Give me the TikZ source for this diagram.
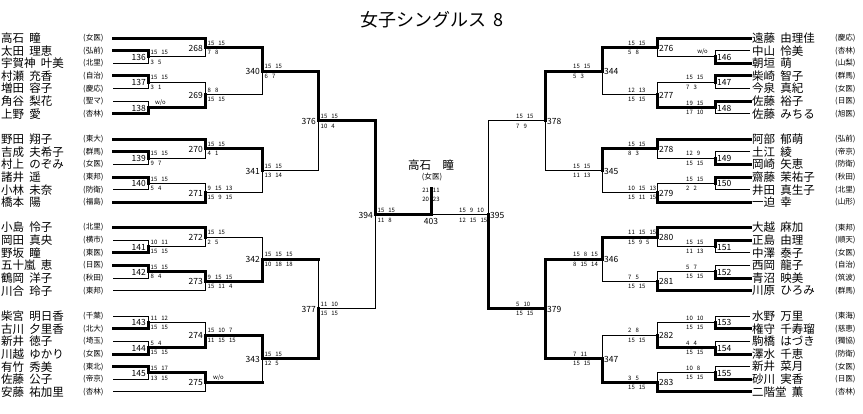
\documentclass[tikz,border=0pt]{standalone}
\usepackage{fontspec}
\setmainfont{Noto Sans CJK JP}
\usetikzlibrary{calc}

% row height of the draw sheet
\newcommand{\ry}[1]{38+12.64*#1}
% one arm of a match: entrant -> vertical -> output point
\newcommand{\arm}[3]{\draw[#3] (#1) -- (#1 -| #2) -- (#2);}
% match number and scores, left and right half
\newcommand{\resL}[3]{%
  \node[matchno, anchor=east] (no#1) at ($(m#1)+(-2,0.5)$) {#1};
  \node[score, anchor=south west] (st#1) at ($(m#1)+(2.5,-2)$) {#2};
  \node[score, anchor=north west] (sb#1) at ($(m#1)+(2.5,2.5)$) {#3};}
\newcommand{\resR}[3]{%
  \node[matchno, anchor=west] (no#1) at ($(m#1)+(2,0.5)$) {#1};
  \node[score, anchor=south west] (st#1) at ($(m#1)+(-29,-2)$) {#2};
  \node[score, anchor=north west] (sb#1) at ($(m#1)+(-29,2.5)$) {#3};}

\tikzset{
  win/.style={line width=3pt, line cap=rect},
  lose/.style={line width=1pt},
  player/.style={inner sep=0pt, font=\fontsize{11.5}{12}\selectfont},
  school/.style={anchor=west, inner sep=0pt, font=\fontsize{7.6}{8}\selectfont},
  matchno/.style={inner sep=0pt, font=\fontsize{8.5}{9}\selectfont},
  score/.style={inner sep=0pt, font={\fontsize{6}{6}\selectfont\spaceskip=4pt\relax}},
}

\begin{document}
\begin{tikzpicture}[x=1pt, y=-1pt]
  \useasboundingbox (0,0) rectangle (863,413);

  % Titel
  \node[font=\fontsize{18}{20}\selectfont] (title) at (432,20) {女子シングルス\hspace{0.4em}8};

  % Spieler links
  \foreach \k/\fam/\giv/\sch in {0/高石/瞳/女医, 1/太田/理恵/弘前, 2/宇賀神/叶美/北里,
      3/村瀬/充香/自治, 4/増田/容子/慶応, 5/角谷/梨花/聖マ, 6/上野/愛/杏林,
      8/野田/翔子/東大, 9/吉成/夫希子/群馬, 10/村上/のぞみ/女医, 11/諸井/遥/東邦,
      12/小林/未奈/防衛, 13/橋本/陽/福島,
      15/小島/怜子/北里, 16/岡田/真央/横市, 17/野坂/瞳/東医, 18/五十嵐/恵/日医,
      19/鶴岡/洋子/秋田, 20/川合/玲子/東邦,
      22/柴宮/明日香/千葉, 23/古川/夕里香/北大, 24/新井/徳子/埼玉, 25/川越/ゆかり/女医,
      26/有竹/秀美/東北, 27/佐藤/公子/帝京, 28/安藤/祐加里/杏林}{
    \node[player, anchor=west] (pl\k) at (1,{\ry{\k}}) {\fam\hspace{0.45em}\giv};
    \node[school] (sl\k) at (83,{\ry{\k}}) {(\sch)};
    \coordinate (L\k) at (113,{\ry{\k}});
  }

  % Spieler rechts
  \foreach \k/\fam/\giv/\sch in {0/遠藤/由理佳/慶応, 1/中山/怜美/杏林, 2/朝垣/萌/山梨,
      3/柴崎/智子/群馬, 4/今泉/真紀/女医, 5/佐藤/裕子/日医, 6/佐藤/みちる/旭医,
      8/阿部/郁萌/弘前, 9/土江/綾/帝京, 10/岡崎/矢恵/防衛, 11/齋藤/茉祐子/秋田,
      12/井田/真生子/北里, 13/一迫/幸/山形,
      15/大越/麻加/東邦, 16/正島/由理/順天, 17/中澤/泰子/女医, 18/西岡/龍子/自治,
      19/青沼/映美/筑波, 20/川原/ひろみ/群馬,
      22/水野/万里/東海, 23/権守/千寿瑠/慈恵, 24/駒橋/はづき/獨協, 25/澤水/千恵/防衛,
      26/新井/菜月/女医, 27/砂川/実香/日医, 28/二階堂/薫/杏林}{
    \node[player, anchor=west] (pr\k) at (752,{\ry{\k}}) {\fam\hspace{0.45em}\giv};
    \node[school] (sr\k) at (835,{\ry{\k}}) {(\sch)};
    \coordinate (R\k) at (750,{\ry{\k}});
  }

  % Spielpunkte links
  \coordinate (m136) at (148,{\ry{1.5}});
  \coordinate (m137) at (148,{\ry{3.5}});
  \coordinate (m138) at (148,{\ry{5.5}});
  \coordinate (m139) at (148,{\ry{9.5}});
  \coordinate (m140) at (148,{\ry{11.5}});
  \coordinate (m141) at (148,{\ry{16.5}});
  \coordinate (m142) at (148,{\ry{18.5}});
  \coordinate (m143) at (148,{\ry{22.5}});
  \coordinate (m144) at (148,{\ry{24.5}});
  \coordinate (m145) at (148,{\ry{26.5}});
  \coordinate (m268) at (205,{\ry{0.75}});
  \coordinate (m269) at (205,{\ry{4.5}});
  \coordinate (m270) at (205,{\ry{8.75}});
  \coordinate (m271) at (205,{\ry{12.25}});
  \coordinate (m272) at (205,{\ry{15.75}});
  \coordinate (m273) at (205,{\ry{19.25}});
  \coordinate (m274) at (205,{\ry{23.5}});
  \coordinate (m275) at (205,{\ry{27.25}});
  \coordinate (m340) at (262,{\ry{2.625}});
  \coordinate (m341) at (262,{\ry{10.5}});
  \coordinate (m342) at (262,{\ry{17.5}});
  \coordinate (m343) at (262,{\ry{25.375}});
  \coordinate (m376) at (318,{\ry{6.5625}});
  \coordinate (m377) at (318,{\ry{21.4375}});
  \coordinate (m394) at (375,{\ry{14}});

  % Spielpunkte rechts
  \coordinate (m146) at (715,{\ry{1.5}});
  \coordinate (m147) at (715,{\ry{3.5}});
  \coordinate (m148) at (715,{\ry{5.5}});
  \coordinate (m149) at (715,{\ry{9.5}});
  \coordinate (m150) at (715,{\ry{11.5}});
  \coordinate (m151) at (715,{\ry{16.5}});
  \coordinate (m152) at (715,{\ry{18.5}});
  \coordinate (m153) at (715,{\ry{22.5}});
  \coordinate (m154) at (715,{\ry{24.5}});
  \coordinate (m155) at (715,{\ry{26.5}});
  \coordinate (m276) at (657,{\ry{0.75}});
  \coordinate (m277) at (657,{\ry{4.5}});
  \coordinate (m278) at (657,{\ry{8.75}});
  \coordinate (m279) at (657,{\ry{12.25}});
  \coordinate (m280) at (657,{\ry{15.75}});
  \coordinate (m281) at (657,{\ry{19.25}});
  \coordinate (m282) at (657,{\ry{23.5}});
  \coordinate (m283) at (657,{\ry{27.25}});
  \coordinate (m344) at (602,{\ry{2.625}});
  \coordinate (m345) at (602,{\ry{10.5}});
  \coordinate (m346) at (602,{\ry{17.5}});
  \coordinate (m347) at (602,{\ry{25.375}});
  \coordinate (m378) at (545,{\ry{6.5625}});
  \coordinate (m379) at (545,{\ry{21.4375}});
  \coordinate (m395) at (488,{\ry{14}});
  \coordinate (m403) at (431,{\ry{14}});
  \coordinate (champ) at (431,188);

  % Linien links
  \arm{L2}{m136}{lose} \arm{L1}{m136}{win}
  \arm{L4}{m137}{lose} \arm{L3}{m137}{win}
  \arm{L5}{m138}{lose} \arm{L6}{m138}{win}
  \arm{m136}{m268}{lose} \arm{L0}{m268}{win}
  \arm{m137}{m269}{lose} \arm{m138}{m269}{win}
  \arm{m269}{m340}{lose} \arm{m268}{m340}{win}
  \arm{L10}{m139}{lose} \arm{L9}{m139}{win}
  \arm{m139}{m270}{lose} \arm{L8}{m270}{win}
  \arm{L12}{m140}{lose} \arm{L11}{m140}{win}
  \arm{m140}{m271}{lose} \arm{L13}{m271}{win}
  \arm{m271}{m341}{lose} \arm{m270}{m341}{win}
  \arm{m341}{m376}{lose} \arm{m340}{m376}{win}
  \arm{L16}{m141}{lose} \arm{L17}{m141}{win}
  \arm{m141}{m272}{lose} \arm{L15}{m272}{win}
  \arm{L19}{m142}{lose} \arm{L18}{m142}{win}
  \arm{L20}{m273}{lose} \arm{m142}{m273}{win}
  \arm{m272}{m342}{lose} \arm{m273}{m342}{win}
  \arm{L22}{m143}{lose} \arm{L23}{m143}{win}
  \arm{L24}{m144}{lose} \arm{L25}{m144}{win}
  \arm{m143}{m274}{lose} \arm{m144}{m274}{win}
  \arm{L27}{m145}{lose} \arm{L26}{m145}{win}
  \arm{L28}{m275}{lose} \arm{m145}{m275}{win}
  \arm{m275}{m343}{lose} \arm{m274}{m343}{win}
  \arm{m342}{m377}{lose} \arm{m343}{m377}{win}
  \arm{m377}{m394}{lose} \arm{m376}{m394}{win}
  % dick gezeichnet wie im Blatt
  \draw[win] (m342) -- (m342 -| m377);
  \draw[win] (m275) -- (m275 -| m343);

  % Linien rechts
  \arm{R1}{m146}{lose} \arm{R2}{m146}{win}
  \arm{m146}{m276}{lose} \arm{R0}{m276}{win}
  \arm{R4}{m147}{lose} \arm{R3}{m147}{win}
  \arm{R6}{m148}{lose} \arm{R5}{m148}{win}
  \arm{m147}{m277}{lose} \arm{m148}{m277}{win}
  \arm{m277}{m344}{lose} \arm{m276}{m344}{win}
  \arm{R9}{m149}{lose} \arm{R10}{m149}{win}
  \arm{m149}{m278}{lose} \arm{R8}{m278}{win}
  \arm{R12}{m150}{lose} \arm{R11}{m150}{win}
  \arm{m150}{m279}{lose} \arm{R13}{m279}{win}
  \arm{m279}{m345}{lose} \arm{m278}{m345}{win}
  \arm{m345}{m378}{lose} \arm{m344}{m378}{win}
  \arm{R17}{m151}{lose} \arm{R16}{m151}{win}
  \arm{m151}{m280}{lose} \arm{R15}{m280}{win}
  \arm{R18}{m152}{lose} \arm{R19}{m152}{win}
  \arm{m152}{m281}{lose} \arm{R20}{m281}{win}
  \arm{m281}{m346}{lose} \arm{m280}{m346}{win}
  \arm{R22}{m153}{lose} \arm{R23}{m153}{win}
  \arm{R24}{m154}{lose} \arm{R25}{m154}{win}
  \arm{m153}{m282}{lose} \arm{m154}{m282}{win}
  \arm{R26}{m155}{lose} \arm{R27}{m155}{win}
  \arm{m155}{m283}{lose} \arm{R28}{m283}{win}
  \arm{m282}{m347}{lose} \arm{m283}{m347}{win}
  \arm{m346}{m379}{win} \arm{m347}{m379}{win}
  \arm{m378}{m395}{lose} \arm{m379}{m395}{win}

  % Finale
  \arm{m395}{m403}{lose} \arm{m394}{m403}{win}
  \draw[win] (m403) -- (champ);

  % Ergebnisse links
  \resL{136}{15 15}{3 5}
  \resL{137}{15 15}{3 1}
  \node[matchno, anchor=east] (no138) at ($(m138)+(-2,0.5)$) {138};
  \node[score, anchor=south west] (st138) at ($(m138)+(7,-2)$) {w/o};
  \resL{139}{15 15}{9 7}
  \resL{140}{15 15}{5 4}
  \resL{141}{10 11}{15 15}
  \resL{142}{15 15}{8 4}
  \resL{143}{11 12}{15 15}
  \resL{144}{5 4}{15 15}
  \resL{145}{15 17}{13 15}
  \resL{268}{15 15}{7 8}
  \resL{269}{8 8}{15 15}
  \resL{270}{15 15}{4 1}
  \resL{271}{9 15 13}{15 9 15}
  \resL{272}{15 15}{2 5}
  \resL{273}{9 15 15}{15 11 4}
  \resL{274}{15 10 7}{11 15 15}
  \node[matchno, anchor=east] (no275) at ($(m275)+(-2,0.5)$) {275};
  \node[score, anchor=south west] (st275) at ($(m275)+(8,-2)$) {w/o};
  \resL{340}{15 15}{6 7}
  \resL{341}{15 15}{13 14}
  \resL{342}{15 15 15}{10 18 18}
  \resL{343}{15 15}{12 5}
  \resL{376}{15 15}{10 4}
  \resL{377}{11 10}{15 15}
  \resL{394}{15 15}{11 8}

  % Ergebnisse rechts
  \node[matchno, anchor=west] (no146) at ($(m146)+(2,0.5)$) {146};
  \node[score, anchor=south east] (st146) at ($(m146)+(-7,-2)$) {w/o};
  \resR{147}{15 15}{7 3}
  \resR{148}{19 15}{17 10}
  \resR{149}{12 9}{15 15}
  \resR{150}{15 15}{2 2}
  \resR{151}{15 15}{11 13}
  \resR{152}{5 7}{15 15}
  \resR{153}{10 10}{15 15}
  \resR{154}{4 4}{15 15}
  \resR{155}{10 8}{15 15}
  \resR{276}{15 15}{5 8}
  \resR{277}{12 13}{15 15}
  \resR{278}{15 15}{8 3}
  \resR{279}{10 15 13}{15 11 15}
  \resR{280}{11 15 15}{15 9 5}
  \resR{281}{7 5}{15 15}
  \resR{282}{2 8}{15 15}
  \resR{283}{3 5}{15 15}
  \resR{344}{15 15}{5 3}
  \resR{345}{15 15}{11 13}
  \resR{346}{15 8 15}{8 15 14}
  \resR{347}{7 11}{15 15}
  \resR{378}{15 15}{7 9}
  \resR{379}{5 10}{15 15}
  \resR{395}{15 9 10}{12 15 15}

  % Sieger
  \node[matchno, anchor=north] (no403) at ($(m403)+(0,3)$) {403};
  \node[player] (winner) at (431,165) {高石\hspace{1em}瞳};
  \node[school, anchor=center] (wschool) at (432,177.5) {(女医)};
  \node[score] (wst) at (431,190.5) {21 11};
  \node[score] (wsb) at (431,199.5) {20 23};
\end{tikzpicture}
\end{document}
